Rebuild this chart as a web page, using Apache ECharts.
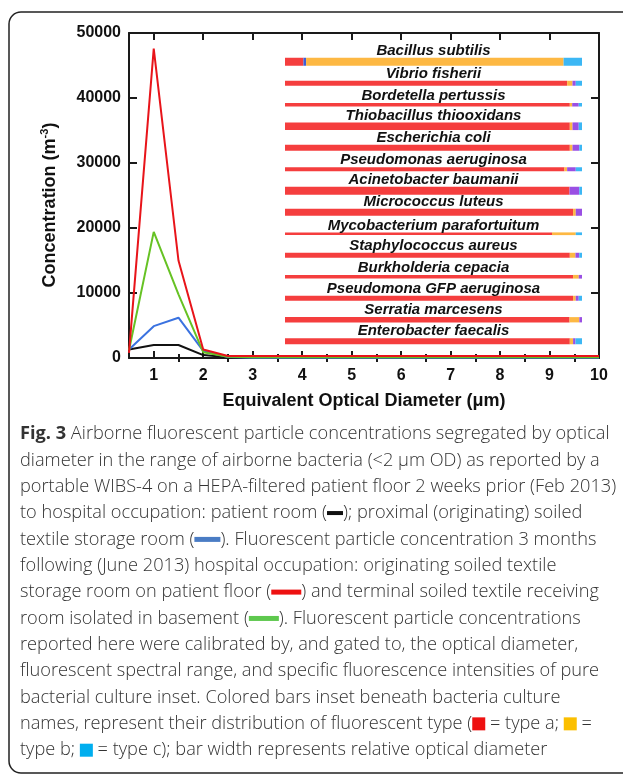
<!DOCTYPE html>
<html><head><meta charset="utf-8">
<script src="https://cdn.jsdelivr.net/npm/echarts@6/dist/echarts.min.js"></script>
<style>html,body{margin:0;padding:0;background:#fff}#c{width:623px;height:776px}</style>
</head><body><div id="c"></div>
<script>
// ---------- data ----------
const diameters = [0.5,1,1.5,2,2.5,3,3.5,4,4.5,5,5.5,6,6.5,7,7.5,8,8.5,9,9.5,10];
const patientRoomFeb   = [1300,2000,2000,450,100,30,30,30,30,30,30,30,30,30,30,30,30,30,30,30];
const storageRoomFeb   = [1300,4900,6200,1100,150,50,50,50,50,50,50,50,50,50,50,50,50,50,50,50];
const storageRoomJune  = [800,47600,15000,1300,300,300,300,300,300,300,300,300,300,300,300,300,300,300,300,300];
const basementJune     = [1200,19400,9800,900,200,100,100,100,100,100,100,100,100,100,100,100,100,100,100,100];
const yTicks = [0,10000,20000,30000,40000,50000];
const xTicks = [1,2,3,4,5,6,7,8,9,10];

const bacteria = ['Bacillus subtilis','Vibrio fisherii','Bordetella pertussis','Thiobacillus thiooxidans',
  'Escherichia coli','Pseudomonas aeruginosa','Acinetobacter baumanii','Micrococcus luteus',
  'Mycobacterium parafortuitum','Staphylococcus aureus','Burkholderia cepacia','Pseudomona GFP aeruginosa',
  'Serratia marcesens','Enterobacter faecalis'];
// relative optical diameter (bar thickness)
const relDiameter = [1.0,0.62,0.44,0.96,0.75,0.5,1.0,0.88,0.34,0.62,0.46,0.62,0.66,0.75];
// distribution of fluorescent type, percent (in drawing order)
const typeA    = [6.2,94.9,95.8,95.8,95.8,94.0,95.8,97.0,89.9,95.8,97.0,97.0,95.8,95.8];
const typeAB   = [0.9,0,0,0,0,0,0,0,0,0,0,0,0,0];
const typeB    = [86.7,1.8,0.8,0.9,0.9,0.9,0,0.9,8.0,1.9,1.9,0.9,3.3,1.1];
const typeBC   = [0,1.1,2.2,2.1,2.3,2.9,3.3,2.1,0,1.3,1.1,1.0,0.9,0.8];
const typeC    = [6.2,2.1,1.1,1.1,0.9,2.1,0.9,0,2.1,0.9,0,1.1,0,2.2];

const captionLines = [
  '{b|Fig. 3} Airborne fluorescent particle concentrations segregated by optical',
  'diameter in the range of airborne bacteria (<2 μm OD) as reported by a',
  'portable WIBS-4 on a HEPA-filtered patient floor 2 weeks prior (Feb 2013)',
  'to hospital occupation: patient room ({k| }); proximal (originating) soiled',
  'textile storage room ({bl| }). Fluorescent particle concentration 3 months',
  'following (June 2013) hospital occupation: originating soiled textile',
  'storage room on patient floor ({r| }) and terminal soiled textile receiving',
  'room isolated in basement ({g| }). Fluorescent particle concentrations',
  'reported here were calibrated by, and gated to, the optical diameter,',
  'fluorescent spectral range, and specific fluorescence intensities of pure',
  'bacterial culture inset. Colored bars inset beneath bacteria culture',
  'names, represent their distribution of fluorescent type ({sr| } = type a; {sy| } =',
  'type b; {sc| } = type c); bar width represents relative optical diameter'
];

// ---------- styling ----------
const F = '"Liberation Sans", Arial, Helvetica, sans-serif';
const axisCol = '#1a1a1a';
const segColors = ['#f53e3e','#3d5fd6','#fdb843','#9a4fe3','#3cb7f4'];
const barScale = 8;

const pairs = arr => diameters.map((d,i)=>[d, arr[i]]);

const segData = [];
bacteria.forEach((n, r) => {
  const parts = [typeA, typeAB, typeB, typeBC, typeC].map(a => a[r]);
  const tot = parts.reduce((s,v)=>s+v,0);
  let acc = 0;
  parts.forEach((v,k) => {
    if (v > 0) segData.push([acc/tot*100, (acc+v)/tot*100, r, relDiameter[r], k]);
    acc += v;
  });
});
const labelData = bacteria.map((n,r)=>[50, r, relDiameter[r]]);

const capFont = '"Open Sans", "Noto Sans", sans-serif';
const capWeight = 300;
const capSize = 18.2;

const capRich = {
  b: {fontWeight:'bold', fontSize: capSize, fontFamily: capFont, fill:'#333'},
  k: {width: 16, height: 4, backgroundColor:'#111', verticalAlign:'middle'},
  bl:{width: 26, height: 5, backgroundColor:'#4a7cc4', verticalAlign:'middle'},
  r: {width: 30, height: 5, backgroundColor:'#ee1111', verticalAlign:'middle'},
  g: {width: 30, height: 5, backgroundColor:'#5ec84e', verticalAlign:'middle'},
  sr:{width: 13, height: 13, backgroundColor:'#ee1111', verticalAlign:'middle'},
  sy:{width: 13, height: 13, backgroundColor:'#fbbf00', verticalAlign:'middle'},
  sc:{width: 13, height: 13, backgroundColor:'#00aeef', verticalAlign:'middle'}
};

const graphics = [
  {type:'rect', shape:{x:9, y:12, width:700, height:761, r:12}, style:{fill:'none', stroke:'#222', lineWidth:1.5}, silent:true},
  {type:'text', x:50, y:205, rotation:Math.PI/2, style:{
    text:'{a|Concentration (m}{s|-3}{a|)}', align:'center', verticalAlign:'middle',
    rich:{a:{fontSize:18, fontWeight:'bold', fontFamily:F, fill:'#111', lineHeight:22},
          s:{fontSize:11, fontWeight:'bold', fontFamily:F, fill:'#111', lineHeight:12, verticalAlign:'top'}}}}
];
captionLines.forEach((t,i) => {
  graphics.push({type:'text', x:20, y:434 + i*26.35, style:{
    text:t, fontSize:capSize, fontFamily:capFont, fontWeight:capWeight, fill:'#333', align:'left', verticalAlign:'middle', rich:capRich}});
});

const tickLbl = {fontSize:16, fontWeight:'bold', fontFamily:F, color:'#111'};
const option = {
  animation:false,
  backgroundColor:'#fff',
  grid:[
    {left:129, right:24, top:33, height:325},
    {left:285, right:41, top:51, height:301}
  ],
  xAxis:[
    {gridIndex:0, type:'value', min:0.5, max:10, position:'bottom',
     axisLine:{show:true, onZero:false, lineStyle:{color:axisCol, width:2}},
     axisTick:{show:true, inside:true, length:7, customValues:xTicks, lineStyle:{color:axisCol, width:2}},
     axisLabel:{show:true, customValues:xTicks, margin:10, ...tickLbl},
     splitLine:{show:false},
     name:'Equivalent Optical Diameter (μm)', nameLocation:'middle', nameGap:34,
     nameTextStyle:{fontSize:18, fontWeight:'bold', fontFamily:F, color:'#111'}},
    {gridIndex:0, type:'value', min:0.5, max:10, position:'bottom',
     axisLine:{show:false}, axisLabel:{show:false}, splitLine:{show:false},
     axisTick:{show:true, inside:true, length:4, customValues:[1.5,2.5,3.5,4.5,5.5,6.5,7.5,8.5,9.5], lineStyle:{color:axisCol, width:2}}},
    {gridIndex:0, type:'value', min:0.5, max:10, position:'top',
     axisLine:{show:true, onZero:false, lineStyle:{color:axisCol, width:2}}, axisLabel:{show:false}, splitLine:{show:false},
     axisTick:{show:true, inside:true, length:7, customValues:xTicks, lineStyle:{color:axisCol, width:2}}},
    {gridIndex:0, type:'value', min:0.5, max:10, position:'top',
     axisLine:{show:false}, axisLabel:{show:false}, splitLine:{show:false},
     axisTick:{show:true, inside:true, length:4, customValues:[1.5,2.5,3.5,4.5,5.5,6.5,7.5,8.5,9.5], lineStyle:{color:axisCol, width:2}}},
    {gridIndex:1, type:'value', min:0, max:100, show:false}
  ],
  yAxis:[
    {gridIndex:0, type:'value', min:0, max:50000, interval:10000, position:'left',
     axisLine:{show:true, onZero:false, lineStyle:{color:axisCol, width:2}},
     axisTick:{show:true, inside:true, length:8, customValues:yTicks, lineStyle:{color:axisCol, width:2}},
     axisLabel:{margin:8, customValues:yTicks, formatter:v=>String(v), ...tickLbl}, splitLine:{show:false}},
    {gridIndex:0, type:'value', min:0, max:50000, interval:10000, position:'right',
     axisLine:{show:true, onZero:false, lineStyle:{color:axisCol, width:2}},
     axisTick:{show:true, inside:true, length:8, lineStyle:{color:axisCol, width:2}},
     axisLabel:{show:false}, splitLine:{show:false}},
    {gridIndex:1, type:'category', data:bacteria, inverse:true, show:false}
  ],
  series:[
    {type:'line', xAxisIndex:0, yAxisIndex:0, data:pairs(patientRoomFeb), symbol:'none', lineStyle:{color:'#111', width:2}, z:3},
    {type:'line', xAxisIndex:0, yAxisIndex:0, data:pairs(storageRoomFeb), symbol:'none', lineStyle:{color:'#3a72e0', width:2}, z:3},
    {type:'line', xAxisIndex:0, yAxisIndex:0, data:pairs(basementJune), symbol:'none', lineStyle:{color:'#66c224', width:2}, z:3},
    {type:'line', xAxisIndex:0, yAxisIndex:0, data:pairs(storageRoomJune), symbol:'none', lineStyle:{color:'#e8141a', width:2}, z:4},
    {type:'custom', xAxisIndex:4, yAxisIndex:2, data:segData, encode:{x:[0,1], y:2},
     renderItem:(params, api) => {
       const p0 = api.coord([api.value(0), api.value(2)]);
       const p1 = api.coord([api.value(1), api.value(2)]);
       const h = api.value(3) * barScale;
       return {type:'rect', shape:{x:p0[0], y:p0[1]-h/2, width:p1[0]-p0[0], height:h}, style:{fill:segColors[api.value(4)]}};
     }},
    {type:'custom', xAxisIndex:4, yAxisIndex:2, data:labelData, encode:{x:0, y:1},
     renderItem:(params, api) => {
       const c = api.coord([api.value(0), api.value(1)]);
       const h = api.value(2) * barScale;
       return {type:'text', x:c[0], y:c[1]-h/2-7, style:{text:bacteria[params.dataIndex], fontSize:15, fontWeight:'bold', fontStyle:'italic', fontFamily:F, fill:'#111', align:'center', verticalAlign:'middle'}};
     }}
  ],
  graphic: graphics
};
const chart = echarts.init(document.getElementById('c'));
chart.setOption(option);
</script></body></html>
